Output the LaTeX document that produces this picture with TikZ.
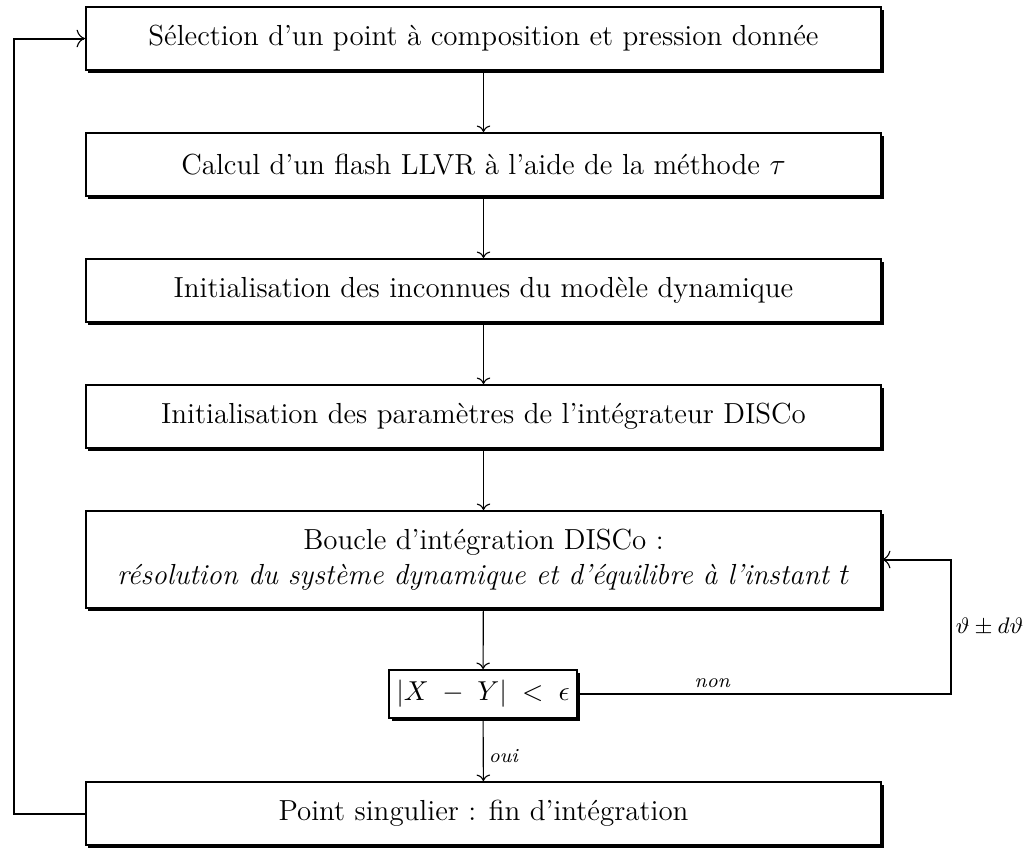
\documentclass[tikz,border=0pt]{standalone}
\usepackage{fontspec}
\usepackage{tikz}
\usetikzlibrary{arrows.meta,positioning,shadows,calc}
\tikzset{
  etape/.style={draw, line width=0.8pt, fill=white, align=center, inner sep=3pt,
    minimum width=318pt, minimum height=25.2pt, font=\fontsize{11.6}{13.8}\selectfont,
    drop shadow={shadow xshift=1pt, shadow yshift=-1pt, fill=black, opacity=1}},
  test/.style={etape, minimum width=75.2pt, minimum height=19.2pt, inner sep=2pt,
    font=\fontsize{11.4}{13.5}\selectfont},
  flow/.style={-{To[line width=0.45pt]}, line width=0.45pt},
  boucle/.style={-{To[line width=0.45pt]}, line width=0.8pt},
  lbl/.style={font=\footnotesize\itshape, inner sep=2pt},
}
\begin{document}
\begin{tikzpicture}[x=0.4pt,y=-0.4pt]
  \useasboundingbox (0,0) rectangle (1026,847);
  % etapes du calcul
  \node[etape] (selection) at (483.5,38.5) {Sélection d'un point à composition et pression donnée};
  \node[etape] (flash) at (483.5,164.5) {Calcul d'un flash LLVR à l'aide de la méthode $\tau$};
  \node[etape] (init) at (483.5,290.5) {Initialisation des inconnues du modèle dynamique};
  \node[etape] (param) at (483.5,416.5) {Initialisation des paramètres de l'intégrateur DISCo};
  \node[etape, minimum height=38.8pt] (integ) at (483.5,559.5)
    {Boucle d'intégration DISCo :\\ \textit{résolution du système dynamique et d'équilibre à l'instant $t$}};
  \node[test] (crit) at (483,694) {$|X\;-\;Y|\;<\;\epsilon$};
  \node[etape] (fin) at (483.5,813.5) {Point singulier : fin d'intégration};
  \coordinate (gauche) at (14,0);
  \coordinate (droite) at (951,0);
  % liaisons
  \foreach \a/\b in {selection/flash, flash/init, init/param, param/integ, integ/crit}
    \draw[flow] (\a) -- (\b);
  \draw[flow] (crit) -- node[right, lbl, pos=0.6]{oui} (fin);
  \draw[boucle] (crit.east) -- node[above, lbl, pos=0.36]{non} (crit.east -| droite)
    |- node[right, pos=0.25, inner sep=1.5pt, font=\small]{$\vartheta \pm d\vartheta$} (integ.east);
  \draw[boucle] (fin.west) -- (fin.west -| gauche) |- (selection.west);
\end{tikzpicture}
\end{document}
